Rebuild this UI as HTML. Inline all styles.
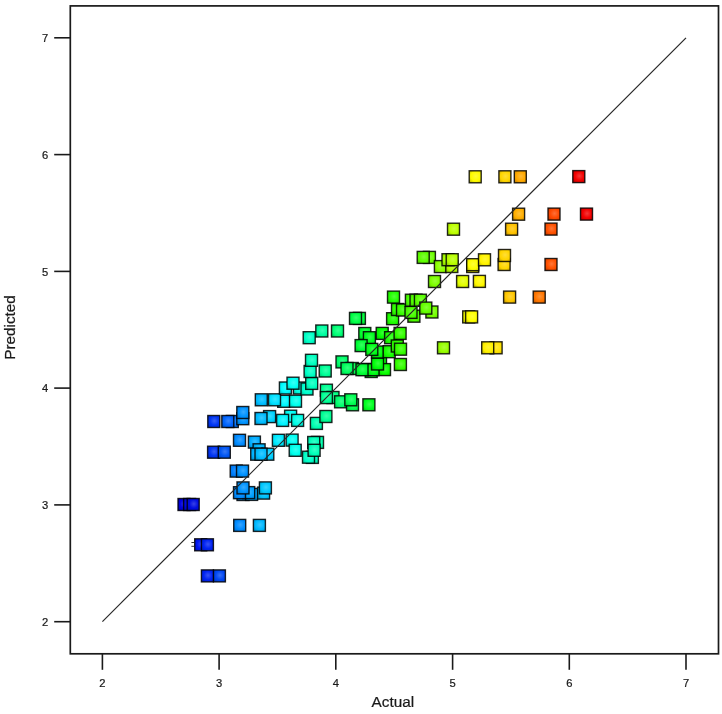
<!DOCTYPE html>
<html><head><meta charset="utf-8"><title>Predicted vs Actual</title>
<style>
html,body{margin:0;padding:0;background:#fff}
svg{display:block}
text{font-family:"Liberation Sans",sans-serif;fill:#1a1a1a;stroke:#1a1a1a;stroke-width:0.22px}
</style></head><body>
<svg width="722" height="714" viewBox="0 0 722 714">
<defs>
<radialGradient id="g" cx="0.55" cy="0.45" r="0.75">
<stop offset="0" stop-color="#fff" stop-opacity="0.22"/>
<stop offset="0.5" stop-color="#fff" stop-opacity="0"/>
<stop offset="0.55" stop-color="#000" stop-opacity="0"/>
<stop offset="1" stop-color="#000" stop-opacity="0.3"/>
</radialGradient>
<g id="s"><rect width="12" height="12"/><rect width="12" height="12" fill="url(#g)" stroke="#000" stroke-opacity="0.84" stroke-width="1.4"/></g>
</defs>
<rect width="722" height="714" fill="#fff"/>
<g>
<use href="#s" x="178.0" y="498.5" fill="#0000e0"/>
<use href="#s" x="183.6" y="498.5" fill="#0007e0"/>
<use href="#s" x="187.2" y="498.5" fill="#000ce0"/>
<use href="#s" x="194.7" y="538.8" fill="#0017f2"/>
<use href="#s" x="201.4" y="538.8" fill="#0022f2"/>
<use href="#s" x="213.4" y="569.9" fill="#0046f2"/>
<use href="#s" x="201.4" y="569.9" fill="#0022f2"/>
<use href="#s" x="233.7" y="519.4" fill="#008bff"/>
<use href="#s" x="253.4" y="519.4" fill="#00b8ff"/>
<use href="#s" x="237.0" y="488.5" fill="#0093ff"/>
<use href="#s" x="245.6" y="488.4" fill="#00a6ff"/>
<use href="#s" x="242.7" y="486.6" fill="#00a0ff"/>
<use href="#s" x="233.5" y="486.7" fill="#008bff"/>
<use href="#s" x="257.6" y="487.1" fill="#00c3ff"/>
<use href="#s" x="237.0" y="481.9" fill="#0093ff"/>
<use href="#s" x="259.4" y="481.9" fill="#00c8ff"/>
<use href="#s" x="230.2" y="465.1" fill="#0080ff"/>
<use href="#s" x="236.5" y="465.1" fill="#0092ff"/>
<use href="#s" x="207.6" y="446.2" fill="#0034f2"/>
<use href="#s" x="218.3" y="446.2" fill="#0055f2"/>
<use href="#s" x="233.5" y="434.3" fill="#008bff"/>
<use href="#s" x="248.4" y="436.1" fill="#00acff"/>
<use href="#s" x="253.1" y="443.8" fill="#00b7ff"/>
<use href="#s" x="250.7" y="448.2" fill="#00b2ff"/>
<use href="#s" x="261.8" y="448.2" fill="#00ceff"/>
<use href="#s" x="255.0" y="448.2" fill="#00bcff"/>
<use href="#s" x="207.8" y="415.5" fill="#0035f2"/>
<use href="#s" x="226.3" y="415.5" fill="#0073ff"/>
<use href="#s" x="221.8" y="415.5" fill="#0065ff"/>
<use href="#s" x="236.8" y="412.7" fill="#0093ff"/>
<use href="#s" x="236.8" y="406.5" fill="#0093ff"/>
<use href="#s" x="263.6" y="410.6" fill="#00d3ff"/>
<use href="#s" x="255.0" y="412.5" fill="#00bcff"/>
<use href="#s" x="284.6" y="410.2" fill="#00fff7"/>
<use href="#s" x="276.6" y="414.4" fill="#00f4ff"/>
<use href="#s" x="291.6" y="414.4" fill="#00ffe7"/>
<use href="#s" x="272.4" y="434.3" fill="#00eaff"/>
<use href="#s" x="286.1" y="434.1" fill="#00fff4"/>
<use href="#s" x="289.2" y="444.3" fill="#00ffec"/>
<use href="#s" x="311.5" y="436.4" fill="#00ffae"/>
<use href="#s" x="307.7" y="436.5" fill="#00ffb9"/>
<use href="#s" x="306.4" y="451.4" fill="#00ffbd"/>
<use href="#s" x="302.5" y="451.2" fill="#00ffc8"/>
<use href="#s" x="308.1" y="444.3" fill="#00ffb8"/>
<use href="#s" x="277.7" y="395.3" fill="#00f7ff"/>
<use href="#s" x="255.3" y="393.8" fill="#00bdff"/>
<use href="#s" x="268.5" y="393.8" fill="#00e0ff"/>
<use href="#s" x="289.5" y="395.2" fill="#00ffec"/>
<use href="#s" x="279.4" y="382.0" fill="#00fbff"/>
<use href="#s" x="293.4" y="382.0" fill="#00ffe3"/>
<use href="#s" x="287.0" y="377.2" fill="#00fff2"/>
<use href="#s" x="301.0" y="383.0" fill="#00ffcd"/>
<use href="#s" x="305.7" y="377.4" fill="#00ffbf"/>
<use href="#s" x="304.1" y="365.5" fill="#00ffc4"/>
<use href="#s" x="305.5" y="354.3" fill="#00ffbf"/>
<use href="#s" x="319.2" y="365.0" fill="#00ff97"/>
<use href="#s" x="320.4" y="384.2" fill="#00ff94"/>
<use href="#s" x="327.0" y="391.5" fill="#00ff82"/>
<use href="#s" x="320.4" y="391.6" fill="#00ff94"/>
<use href="#s" x="334.6" y="395.8" fill="#00ff6e"/>
<use href="#s" x="346.5" y="398.8" fill="#00ff4e"/>
<use href="#s" x="344.8" y="393.8" fill="#00ff53"/>
<use href="#s" x="362.9" y="398.8" fill="#00ff21"/>
<use href="#s" x="310.4" y="417.4" fill="#00ffb1"/>
<use href="#s" x="319.9" y="410.5" fill="#00ff95"/>
<use href="#s" x="336.0" y="355.9" fill="#00ff6a"/>
<use href="#s" x="346.2" y="362.5" fill="#00ff4f"/>
<use href="#s" x="341.0" y="362.5" fill="#00ff5d"/>
<use href="#s" x="365.2" y="365.5" fill="#00ff1b"/>
<use href="#s" x="358.4" y="363.4" fill="#00ff2d"/>
<use href="#s" x="374.5" y="356.5" fill="#00ff01"/>
<use href="#s" x="378.5" y="363.6" fill="#09ff00"/>
<use href="#s" x="367.0" y="363.7" fill="#00ff16"/>
<use href="#s" x="356.0" y="363.7" fill="#00ff34"/>
<use href="#s" x="371.5" y="358.0" fill="#00ff0a"/>
<use href="#s" x="394.4" y="358.5" fill="#34ff00"/>
<use href="#s" x="315.8" y="325.0" fill="#00ffa1"/>
<use href="#s" x="331.5" y="325.0" fill="#00ff76"/>
<use href="#s" x="303.2" y="331.7" fill="#00ffc6"/>
<use href="#s" x="353.4" y="312.4" fill="#00ff3b"/>
<use href="#s" x="349.5" y="312.4" fill="#00ff46"/>
<use href="#s" x="358.8" y="327.5" fill="#00ff2c"/>
<use href="#s" x="363.4" y="331.7" fill="#00ff1f"/>
<use href="#s" x="376.2" y="327.4" fill="#03ff00"/>
<use href="#s" x="384.6" y="331.7" fill="#1aff00"/>
<use href="#s" x="394.1" y="327.4" fill="#33ff00"/>
<use href="#s" x="355.1" y="339.6" fill="#00ff36"/>
<use href="#s" x="371.5" y="346.0" fill="#00ff0a"/>
<use href="#s" x="365.8" y="343.4" fill="#00ff19"/>
<use href="#s" x="383.2" y="345.7" fill="#16ff00"/>
<use href="#s" x="391.3" y="340.0" fill="#2cff00"/>
<use href="#s" x="394.5" y="343.2" fill="#34ff00"/>
<use href="#s" x="386.6" y="312.7" fill="#1fff00"/>
<use href="#s" x="391.5" y="303.5" fill="#2cff00"/>
<use href="#s" x="396.5" y="304.0" fill="#38ff00"/>
<use href="#s" x="407.9" y="310.2" fill="#4dff00"/>
<use href="#s" x="405.0" y="306.4" fill="#48ff00"/>
<use href="#s" x="387.5" y="291.1" fill="#22ff00"/>
<use href="#s" x="405.4" y="294.2" fill="#48ff00"/>
<use href="#s" x="410.0" y="294.2" fill="#51ff00"/>
<use href="#s" x="414.4" y="294.2" fill="#59ff00"/>
<use href="#s" x="425.9" y="306.0" fill="#75ff00"/>
<use href="#s" x="419.8" y="302.1" fill="#64ff00"/>
<use href="#s" x="428.5" y="275.5" fill="#7dff00"/>
<use href="#s" x="423.4" y="251.4" fill="#6eff00"/>
<use href="#s" x="417.2" y="251.4" fill="#5eff00"/>
<use href="#s" x="434.4" y="260.6" fill="#8dff00"/>
<use href="#s" x="445.8" y="260.5" fill="#b6ff00"/>
<use href="#s" x="442.0" y="253.7" fill="#a8ff00"/>
<use href="#s" x="446.2" y="253.7" fill="#b8ff00"/>
<use href="#s" x="456.6" y="275.5" fill="#e3ff00"/>
<use href="#s" x="473.4" y="275.4" fill="#fff900"/>
<use href="#s" x="466.7" y="260.5" fill="#fffe00"/>
<use href="#s" x="466.7" y="258.7" fill="#fffe00"/>
<use href="#s" x="478.5" y="253.8" fill="#fff400"/>
<use href="#s" x="498.1" y="258.5" fill="#ffd600"/>
<use href="#s" x="498.5" y="249.5" fill="#ffd500"/>
<use href="#s" x="462.7" y="310.9" fill="#f5ff00"/>
<use href="#s" x="465.6" y="310.9" fill="#feff00"/>
<use href="#s" x="437.5" y="341.8" fill="#97ff00"/>
<use href="#s" x="490.1" y="341.8" fill="#ffe300"/>
<use href="#s" x="481.7" y="341.8" fill="#fff100"/>
<use href="#s" x="447.5" y="223.2" fill="#bdff00"/>
<use href="#s" x="505.6" y="223.2" fill="#ffc200"/>
<use href="#s" x="512.6" y="208.2" fill="#ffae00"/>
<use href="#s" x="469.2" y="170.8" fill="#fffc00"/>
<use href="#s" x="498.9" y="170.8" fill="#ffd500"/>
<use href="#s" x="514.3" y="170.8" fill="#ffa900"/>
<use href="#s" x="503.6" y="291.1" fill="#ffc700"/>
<use href="#s" x="533.2" y="291.1" fill="#ff7600"/>
<use href="#s" x="545.0" y="258.5" fill="#ff5100"/>
<use href="#s" x="545.0" y="223.1" fill="#ff5100"/>
<use href="#s" x="548.0" y="208.1" fill="#ff4800"/>
<use href="#s" x="580.5" y="208.1" fill="#f20000"/>
<use href="#s" x="572.8" y="170.6" fill="#f20100"/>
</g>
<g stroke="#1c1c1c" stroke-width="0.9" fill="none"><path d="M191.4 542.5h3M191.4 546.3h3"/></g>
<line x1="102.4" y1="621.7" x2="686" y2="37.8" stroke="#262626" stroke-width="1.2"/>
<rect x="70.3" y="5.9" width="648.2" height="647.9" fill="none" stroke="#1a1a1a" stroke-width="1.7"/>
<g stroke="#1a1a1a" stroke-width="1.6">
<line x1="102.4" y1="653.8" x2="102.4" y2="669.8"/>
<line x1="54.2" y1="621.7" x2="70.3" y2="621.7"/>
<line x1="219.1" y1="653.8" x2="219.1" y2="669.8"/>
<line x1="54.2" y1="504.9" x2="70.3" y2="504.9"/>
<line x1="335.8" y1="653.8" x2="335.8" y2="669.8"/>
<line x1="54.2" y1="388.1" x2="70.3" y2="388.1"/>
<line x1="452.6" y1="653.8" x2="452.6" y2="669.8"/>
<line x1="54.2" y1="271.4" x2="70.3" y2="271.4"/>
<line x1="569.3" y1="653.8" x2="569.3" y2="669.8"/>
<line x1="54.2" y1="154.6" x2="70.3" y2="154.6"/>
<line x1="686.0" y1="653.8" x2="686.0" y2="669.8"/>
<line x1="54.2" y1="37.8" x2="70.3" y2="37.8"/>
</g>
<g font-size="11.2px">
<text x="102.4" y="686.6" text-anchor="middle">2</text>
<text x="48.2" y="625.8" text-anchor="end">2</text>
<text x="219.1" y="686.6" text-anchor="middle">3</text>
<text x="48.2" y="509.0" text-anchor="end">3</text>
<text x="335.8" y="686.6" text-anchor="middle">4</text>
<text x="48.2" y="392.2" text-anchor="end">4</text>
<text x="452.6" y="686.6" text-anchor="middle">5</text>
<text x="48.2" y="275.5" text-anchor="end">5</text>
<text x="569.3" y="686.6" text-anchor="middle">6</text>
<text x="48.2" y="158.7" text-anchor="end">6</text>
<text x="686.0" y="686.6" text-anchor="middle">7</text>
<text x="48.2" y="41.9" text-anchor="end">7</text>
</g>
<text x="392.8" y="707.1" text-anchor="middle" font-size="15.3px">Actual</text>
<text transform="translate(14.8 327.5) rotate(-90)" text-anchor="middle" font-size="15.3px">Predicted</text>
</svg>
</body></html>
